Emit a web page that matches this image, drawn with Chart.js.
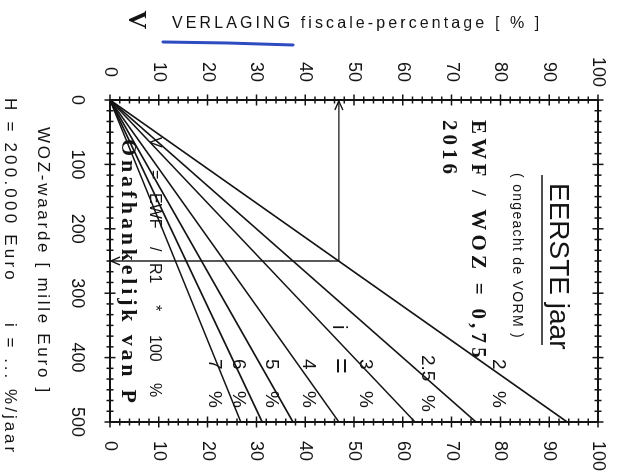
<!DOCTYPE html>
<html>
<head>
<meta charset="utf-8">
<script src="https://cdn.jsdelivr.net/npm/chart.js@4.4.1/dist/chart.umd.min.js"></script>
<style>
  html, body { margin: 0; padding: 0; background: #ffffff; overflow: hidden; width: 622px; height: 471px; }
  /* the sheet is laid out upright (471 x 622) and turned a quarter turn clockwise */
  #sheet { position: absolute; left: 0; top: 0; width: 471px; height: 622px;
           transform-origin: 0 0; transform: translate(622px, 0) rotate(90deg); }
</style>
</head>
<body>
<div id="sheet"><canvas id="c" width="471" height="622"></canvas></div>
<script>
// WOZ-waarde (mille Euro) at both ends of every line
const wozRange = [0, 500];
// rente i (% per jaar), one line per rate
const interestRates = ['2', '2.5', '3', '4', '5', '6', '7'];
// verlaging fiscale-percentage (%) at WOZ = 0 and at WOZ = 500
const verlagingAtStart = [0, 0, 0, 0, 0, 0, 0];
const verlagingAtEnd = [93.7, 75.0, 62.5, 46.9, 37.5, 31.2, 26.8];
// worked example: WOZ 250
const exampleWoz = 250;
const exampleVerlaging = 46.9;
// axis tick labels
const wozTicks = [0, 100, 200, 300, 400, 500];
const verlagingTicks = [0, 10, 20, 30, 40, 50, 60, 70, 80, 90, 100];

const INK = '#141414';
const SANS = "'Liberation Sans', Arial, sans-serif";
const SERIF = "'Liberation Serif', 'Times New Roman', serif";
Chart.defaults.font.family = SANS;
Chart.defaults.color = INK;

const rateLines = interestRates.map((rate, i) => ({
  label: rate + ' %',
  data: [
    { x: wozRange[0], y: verlagingAtStart[i] },
    { x: wozRange[1], y: verlagingAtEnd[i] }
  ],
  borderColor: INK,
  borderWidth: 1.6,
  pointRadius: 0,
  showLine: true,
  fill: false
}));

const exampleLine = {
  label: 'voorbeeld',
  data: [
    { x: wozRange[0], y: exampleVerlaging },
    { x: exampleWoz, y: exampleVerlaging },
    { x: exampleWoz, y: 0 }
  ],
  borderColor: INK,
  borderWidth: 1.4,
  pointRadius: 0,
  showLine: true,
  fill: false
};

function put(ctx, text, x, y, font, o) {
  o = o || {};
  ctx.save();
  ctx.font = font;
  ctx.fillStyle = o.color || INK;
  ctx.textAlign = o.align || 'left';
  ctx.textBaseline = o.baseline || 'alphabetic';
  if ('letterSpacing' in ctx) ctx.letterSpacing = (o.spacing || 0) + 'px';
  ctx.translate(x, y);
  if (o.rotate) ctx.rotate(o.rotate);
  ctx.fillText(text, 0, 0);
  if ('letterSpacing' in ctx) ctx.letterSpacing = '0px';
  ctx.restore();
}

// "+"-shaped tick marks crossing each axis line
function crossTicks(ctx, scale, count, majorEvery, edgePx, horizontal) {
  const span = scale.max - scale.min;
  ctx.save();
  ctx.strokeStyle = INK;
  ctx.lineWidth = 1.5;
  ctx.beginPath();
  for (let k = 0; k <= count; k++) {
    const v = scale.min + span * k / count;
    const p = scale.getPixelForValue(v);
    const half = (k % majorEvery === 0) ? 5.5 : 3.5;
    if (horizontal) { ctx.moveTo(p, edgePx - half); ctx.lineTo(p, edgePx + half); }
    else { ctx.moveTo(edgePx - half, p); ctx.lineTo(edgePx + half, p); }
  }
  ctx.stroke();
  ctx.restore();
}

const sheetPlugin = {
  id: 'sheet',
  afterDatasetsDraw(chart) {
    const ctx = chart.ctx;
    const { x, x2, y, y2 } = chart.scales;
    const a = chart.chartArea;

    crossTicks(ctx, y, 50, 5, a.left, false);
    crossTicks(ctx, y2, 50, 5, a.right, false);
    crossTicks(ctx, x, 30, 6, a.bottom, true);
    crossTicks(ctx, x2, 30, 6, a.top, true);

    // arrowheads of the worked example
    ctx.save();
    ctx.strokeStyle = INK;
    ctx.lineWidth = 1.4;
    const ax = x.getPixelForValue(wozRange[0]) + 1, ay = y.getPixelForValue(exampleVerlaging);
    ctx.beginPath();
    ctx.moveTo(ax + 9, ay - 4); ctx.lineTo(ax, ay); ctx.lineTo(ax + 9, ay + 4);
    const bx = x.getPixelForValue(exampleWoz), by = y.getPixelForValue(0) - 1;
    ctx.moveTo(bx - 4, by - 9); ctx.lineTo(bx, by); ctx.lineTo(bx + 4, by - 9);
    ctx.stroke();
    ctx.restore();

    // labels on the lines: i = 2 ... 7 %
    const rateRows = [129, 200, 262, 319, 356, 389, 413];
    interestRates.forEach((r, i) => {
      const nx = r.length > 1 ? 355 : 359;
      put(ctx, r, nx, rateRows[i], '19px ' + SANS);
      put(ctx, '%', r.length > 1 ? 395 : 391, rateRows[i], '19px ' + SANS);
    });
    put(ctx, 'i', 325, 289, '20px ' + SANS);
    put(ctx, '=', 358, 290, '27px ' + SANS);

    // headings inside the frame
    put(ctx, 'EERSTE jaar', 183, 72, '28px ' + SANS);
    ctx.save();
    ctx.strokeStyle = INK; ctx.lineWidth = 1.5;
    ctx.beginPath(); ctx.moveTo(175, 80); ctx.lineTo(345, 80); ctx.stroke();
    ctx.restore();
    put(ctx, '( ongeacht de VORM )', 173, 109, '14px ' + SANS, { spacing: 1.3 });
    put(ctx, 'EWF / WOZ = 0,75', 120, 150, 'bold 21px ' + SERIF, { spacing: 4.2 });
    put(ctx, '2016', 120, 179, 'bold 21px ' + SERIF, { spacing: 4 });

    // formula, spread out along the 7 % line
    const formula = [['V', 137], ['=', 170], ['EWF', 193], ['/', 247], ['R1', 263], ['*', 305], ['100', 335], ['%', 383]];
    formula.forEach(([t, px]) => put(ctx, t, px, 472, '16px ' + SANS));

    put(ctx, 'Onafhankelijk van P', 139, 500, 'bold 22px ' + SERIF, { spacing: 3.8 });
  },
  afterDraw(chart) {
    const ctx = chart.ctx;
    // vertical axis heading with its marker
    put(ctx, 'V', 20, 486, 'bold 26px ' + SERIF, { align: 'center', baseline: 'middle' });
    put(ctx, 'VERLAGING fiscale-percentage [ % ]', 28, 450, '16px ' + SANS,
        { rotate: -Math.PI / 2, spacing: 3.1 });
    // blue pen stroke under VERLAGING
    ctx.save();
    ctx.strokeStyle = '#2c4cc0';
    ctx.lineWidth = 3;
    ctx.lineCap = 'round';
    ctx.beginPath();
    ctx.moveTo(42, 459);
    ctx.quadraticCurveTo(42.5, 395, 45, 329);
    ctx.stroke();
    ctx.restore();

    // horizontal axis heading and the assumptions line
    put(ctx, 'WOZ-waarde [ mille Euro ]', 261, 584, '17px ' + SANS, { align: 'center', spacing: 2.7 });
    put(ctx, 'H = 200.000 Euro', 98, 617, '17px ' + SANS, { spacing: 3.2 });
    put(ctx, 'i = ... %/jaar', 323, 617, '17px ' + SANS, { spacing: 3 });
  }
};

const border = { display: true, color: INK, width: 2 };

new Chart(document.getElementById('c'), {
  type: 'scatter',
  data: { datasets: [...rateLines, exampleLine] },
  options: {
    responsive: false,
    animation: false,
    layout: { padding: 0 },
    plugins: { legend: { display: false }, tooltip: { enabled: false } },
    scales: {
      x: {
        type: 'linear', position: 'bottom', min: wozRange[0], max: wozRange[1],
        grid: { display: false }, border,
        afterBuildTicks: s => { s.ticks = wozTicks.map(v => ({ value: v })); },
        afterFit: s => { s.height = 110; },
        ticks: { autoSkip: false, maxRotation: 0, padding: 14, font: { size: 18 }, color: INK }
      },
      x2: {
        type: 'linear', position: 'top', min: wozRange[0], max: wozRange[1],
        grid: { display: false }, border,
        afterFit: s => { s.height = 24; },
        ticks: { display: false }
      },
      y: {
        type: 'linear', position: 'left', min: 0, max: 100,
        grid: { display: false }, border,
        afterBuildTicks: s => { s.ticks = verlagingTicks.map(v => ({ value: v })); },
        afterFit: s => { s.width = 100; },
        ticks: { autoSkip: false, crossAlign: 'center', padding: 5, font: { size: 18 }, color: INK }
      },
      y2: {
        type: 'linear', position: 'right', min: 0, max: 100,
        grid: { display: false }, border,
        afterBuildTicks: s => { s.ticks = verlagingTicks.map(v => ({ value: v })); },
        afterFit: s => { s.width = 49; },
        ticks: { autoSkip: false, padding: 11, font: { size: 18 }, color: INK }
      }
    }
  },
  plugins: [sheetPlugin]
});
</script>
</body>
</html>
